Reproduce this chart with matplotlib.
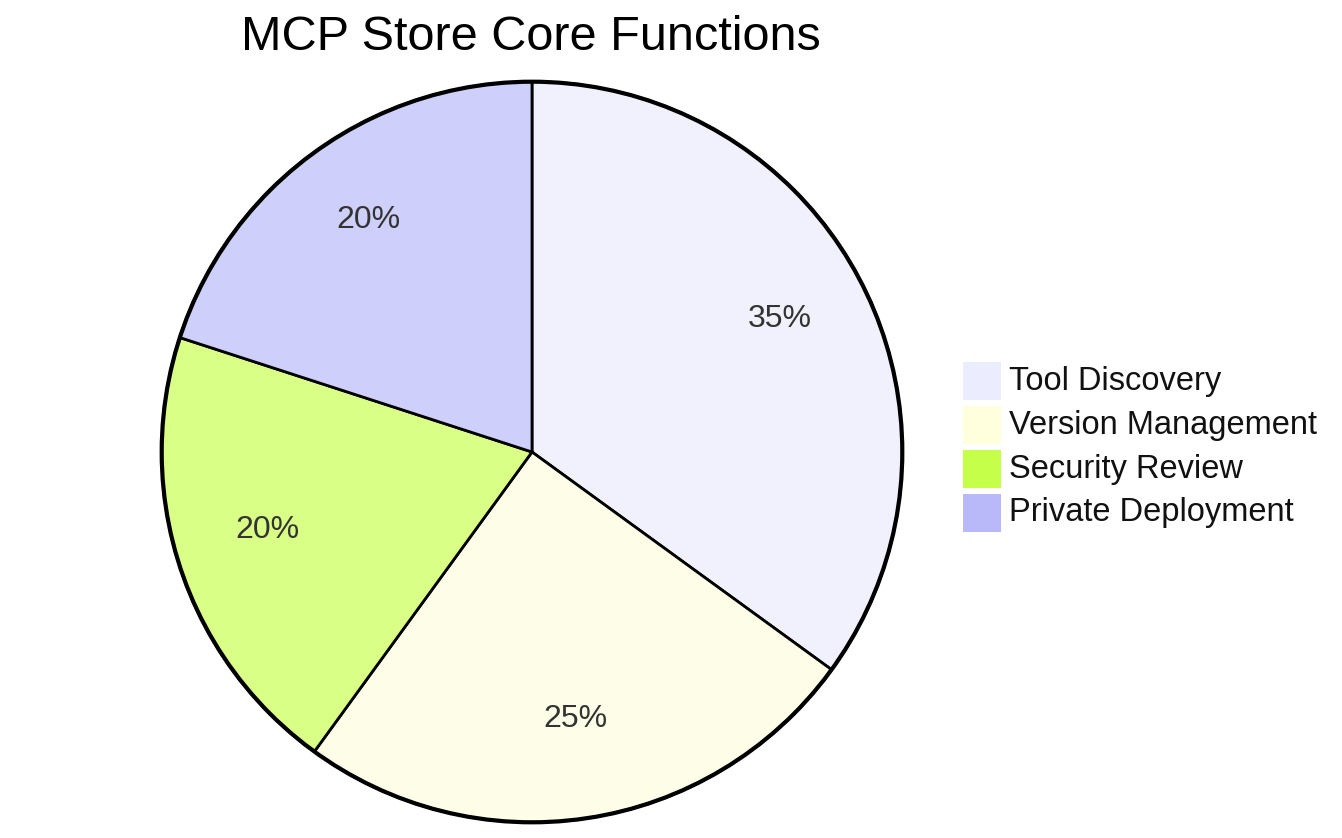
import matplotlib
matplotlib.use("Agg")
import matplotlib.pyplot as plt
from matplotlib.patches import Rectangle, Circle

plt.rcParams['font.family'] = ['Liberation Sans', 'DejaVu Sans']

title = "MCP Store Core Functions"
labels = ["Tool Discovery", "Version Management", "Security Review", "Private Deployment"]
values = [35, 25, 20, 20]
slice_colors = ["#F1F1FD", "#FEFEE8", "#D9FF87", "#CFCFFC"]
legend_colors = ["#ECECFF", "#FFFFDE", "#C5FF4A", "#B9B9F9"]

W, H = 1342, 838
fig = plt.figure(figsize=(W/100, H/100), dpi=100)
cx, cy, r = 532, 452, 374
ax = fig.add_axes([(cx - r)/W, 1 - (cy + r)/H, 2*r/W, 2*r/H])
wedges, texts, autotexts = ax.pie(values, colors=slice_colors, startangle=90, counterclock=False,
       autopct=lambda p: f"{p:.0f}%", pctdistance=0.75,
       wedgeprops=dict(edgecolor="black", linewidth=2),
       textprops=dict(fontsize=23, color="#333333"))
for t in autotexts:
    x, y = t.get_position()
    t.set_position((x, y + 0.02))
ax.add_patch(Circle((0, 0), 1.0, fill=False, edgecolor="black", linewidth=3))
ax.set_xlim(-1.01, 1.01); ax.set_ylim(-1.01, 1.01)
ax.set_aspect("auto")
ax.axis("off")

fig.text(531/W, 1 - 37/H, title, ha="center", va="center", fontsize=35)

for i, (lab, col) in enumerate(zip(labels, legend_colors)):
    yc = 381 + 44*i
    fig.patches.append(Rectangle((963/W, 1 - (yc + 19)/H), 38/W, 38/H, facecolor=col,
                                 edgecolor="none", transform=fig.transFigure))
    fig.text(1009/W, 1 - yc/H, lab, ha="left", va="center", fontsize=23.5, color="#111111")

fig.savefig("out.png", dpi=100)
